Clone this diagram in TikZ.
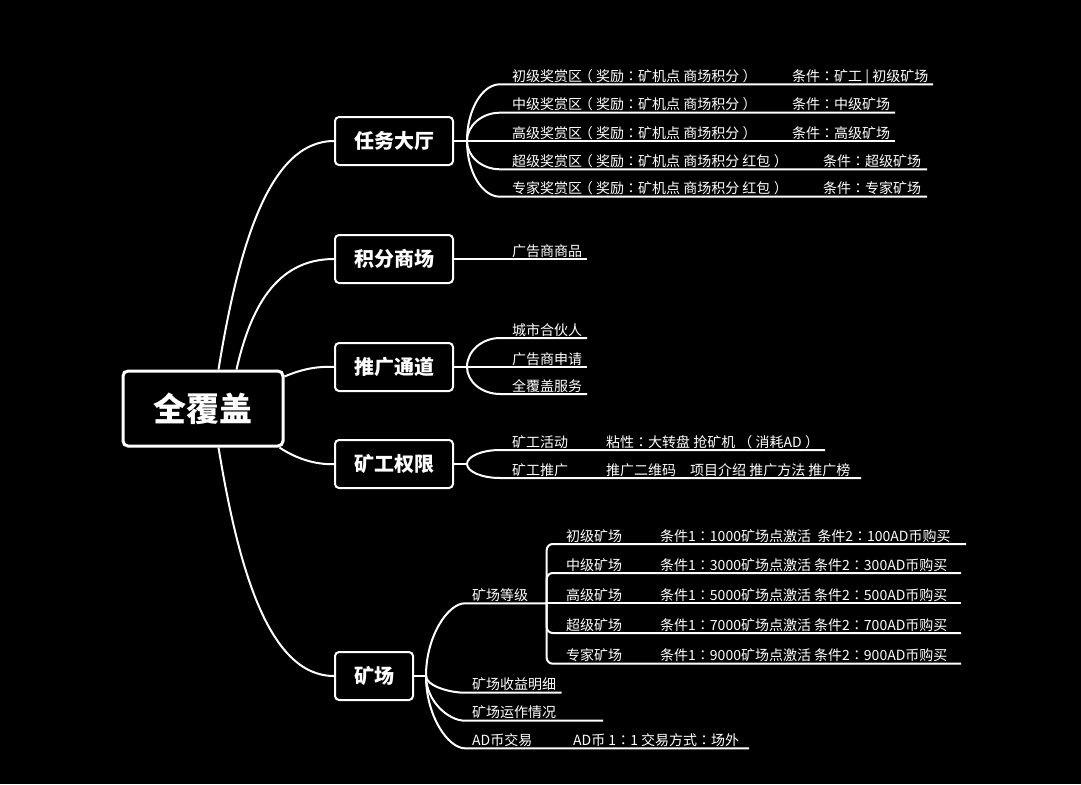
\documentclass[tikz,border=0pt]{standalone}
\usepackage{fontspec}
\setmainfont{Noto Sans CJK SC}
\newfontfamily\tcfont{Noto Sans CJK TC}
\newcommand\myco{{\tcfont ：}}
\newcommand\mylp{\makebox[1em][l]{\hspace{-0.24em}（}}
\newcommand\myrp{\makebox[1em][l]{\hspace{0.24em}）}}
\begin{document}
\begin{tikzpicture}[x=1pt,y=-1pt,
  every node/.style={text=white},
  conn/.style={draw=white,line width=2pt},
  rootbox/.style={draw=white,line width=3pt,rounded corners=5pt,fill=black,minimum width=160pt,minimum height=75pt,inner sep=0pt,font=\bfseries\fontsize{33}{33}\selectfont},
  topic/.style={draw=white,line width=2pt,rounded corners=4pt,fill=black,minimum height=48pt,inner sep=0pt,font=\bfseries\fontsize{20}{20}\selectfont},
  lbl/.style={anchor=base west,inner sep=0pt,font=\fontsize{14}{14}\selectfont}]
\fill[black] (0,0) rectangle (1081,784);
\useasboundingbox (0,0) rectangle (1081,784);

% main nodes
\node[rootbox] (root) at (203,408.5) {全覆盖};
\node[topic,minimum width=118pt] (t1) at (394,141) {任务大厅};
\node[topic,minimum width=118pt] (t2) at (394,259) {积分商场};
\node[topic,minimum width=118pt] (t3) at (394,367) {推广通道};
\node[topic,minimum width=118pt] (t4) at (394,464) {矿工权限};
\node[topic,minimum width=78pt] (t5) at (374,676) {矿场};

% root connectors
\draw[conn] ([xshift=97pt]root.north west) .. controls (238,250) and (268,141) .. (t1.west);
\draw[conn] ([xshift=115pt]root.north west) .. controls (250,310) and (275,259) .. (t2.west);
\draw[conn] ([yshift=-7pt]root.north east) .. controls (300,370) and (315,366) .. (t3.west);
\draw[conn] ([xshift=-5pt]root.south east) .. controls (295,458) and (315,465) .. (t4.west);
\draw[conn] ([xshift=97pt]root.south west) .. controls (238,566) and (268,676) .. (t5.west);

% task hall
\coordinate (h1) at (467,141);
\draw[conn] (t1.east) -- (h1);
\coordinate (a1s) at (500,84.3);  \coordinate (a1e) at (933,84.3);
\coordinate (a2s) at (500,112.7); \coordinate (a2e) at (895,112.7);
\coordinate (a3s) at (500,141);   \coordinate (a3e) at (895,141);
\coordinate (a4s) at (500,169.3); \coordinate (a4e) at (927,169.3);
\coordinate (a5s) at (500,196.7); \coordinate (a5e) at (927,196.7);
\draw[conn] (h1) .. controls (467,110) and (482,84.3) .. (a1s) -- (a1e);
\draw[conn] (h1) .. controls (467,125.4) and (482,112.7) .. (a2s) -- (a2e);
\draw[conn] (h1) -- (a3s) -- (a3e);
\draw[conn] (h1) .. controls (467,156.6) and (482,169.3) .. (a4s) -- (a4e);
\draw[conn] (h1) .. controls (467,171.6) and (482,196.7) .. (a5s) -- (a5e);
\node[lbl] (a1) at (512,81.3) {初级奖赏区\mylp 奖励\myco 矿机点 商场积分\myrp};
\node[lbl] (a1c) at (792,81.3) {条件\myco 矿工 | 初级矿场};
\node[lbl] (a2) at (512,109.7) {中级奖赏区\mylp 奖励\myco 矿机点 商场积分\myrp};
\node[lbl] (a2c) at (792,109.7) {条件\myco 中级矿场};
\node[lbl] (a3) at (512,138) {高级奖赏区\mylp 奖励\myco 矿机点 商场积分\myrp};
\node[lbl] (a3c) at (792,138) {条件\myco 高级矿场};
\node[lbl] (a4) at (512,166.3) {超级奖赏区\mylp 奖励\myco 矿机点 商场积分 红包\myrp};
\node[lbl] (a4c) at (823,166.3) {条件\myco 超级矿场};
\node[lbl] (a5) at (512,193.7) {专家奖赏区\mylp 奖励\myco 矿机点 商场积分 红包\myrp};
\node[lbl] (a5c) at (823,193.7) {条件\myco 专家矿场};

% points mall
\coordinate (b1e) at (587,259);
\draw[conn] (t2.east) -- (b1e);
\node[lbl] (b1) at (512,256) {广告商商品};

% promotion channel
\coordinate (h3) at (467,367);
\draw[conn] (t3.east) -- (h3);
\coordinate (c1s) at (500,338); \coordinate (c1e) at (587,338);
\coordinate (c2s) at (500,367); \coordinate (c2e) at (587,367);
\coordinate (c3s) at (500,394); \coordinate (c3e) at (587,394);
\draw[conn] (h3) .. controls (467,351) and (482,338) .. (c1s) -- (c1e);
\draw[conn] (h3) -- (c2s) -- (c2e);
\draw[conn] (h3) .. controls (467,381.9) and (482,394) .. (c3s) -- (c3e);
\node[lbl] (c1) at (512,335) {城市合伙人};
\node[lbl] (c2) at (512,364) {广告商申请};
\node[lbl] (c3) at (512,391) {全覆盖服务};

% miner rights
\coordinate (h4) at (467,464);
\draw[conn] (t4.east) -- (h4);
\coordinate (d1s) at (500,450); \coordinate (d1e) at (825,450);
\coordinate (d2s) at (500,478); \coordinate (d2e) at (861,478);
\draw[conn] (h4) .. controls (467,456.3) and (482,450) .. (d1s) -- (d1e);
\draw[conn] (h4) .. controls (467,471.7) and (482,478) .. (d2s) -- (d2e);
\node[lbl] (d1) at (512,447) {矿工活动};
\node[lbl] (d1b) at (606,447) {粘性\myco 大转盘 抢矿机 \ \mylp 消耗AD\myrp};
\node[lbl] (d2) at (512,475) {矿工推广};
\node[lbl] (d2b) at (606,475) {推广二维码};
\node[lbl] (d2c) at (690,475) {项目介绍 推广方法 推广榜};

% mine field
\coordinate (h5) at (426,676);
\draw[conn] (t5.east) -- (h5);
\coordinate (e1s) at (465,603.3); \coordinate (v) at (546.7,603.3);
\coordinate (e2s) at (465,692.7); \coordinate (e2e) at (561.7,692.7);
\coordinate (e3s) at (465,720.7); \coordinate (e3e) at (603,720.7);
\coordinate (e4s) at (465,748.3); \coordinate (e4e) at (749,748.3);
\draw[conn] (h5) .. controls (426,636) and (448,603.3) .. (e1s) -- (v);
\draw[conn] (h5) .. controls (426,685.2) and (448,692.7) .. (e2s) -- (e2e);
\draw[conn] (h5) .. controls (426,700.6) and (448,720.7) .. (e3s) -- (e3e);
\draw[conn] (h5) .. controls (426,715.8) and (448,748.3) .. (e4s) -- (e4e);
\node[lbl] (e1) at (472,600.3) {矿场等级};
\node[lbl] (e2) at (472,689.7) {矿场收益明细};
\node[lbl] (e3) at (472,717.7) {矿场运作情况};
\node[lbl] (e4) at (472,745.3) {AD币交易};
\node[lbl] (e4b) at (573,745.3) {AD币 1\myco 1 交易方式\myco 场外};

% mine grades
\coordinate (g1e) at (966,544);
\coordinate (g2e) at (961,573);
\coordinate (g3e) at (961,603.3);
\coordinate (g4e) at (961,633);
\coordinate (g5e) at (961,663.7);
\draw[conn,rounded corners=6pt] (v) |- (g1e);
\draw[conn,rounded corners=6pt] (v) |- (g2e);
\draw[conn] (v) -- (g3e);
\draw[conn,rounded corners=6pt] (v) |- (g4e);
\draw[conn,rounded corners=6pt] (v) |- (g5e);
\node[lbl] (g1) at (566,541) {初级矿场};
\node[lbl] (g1c) at (660,541) {条件1\myco 1000矿场点激活 \ 条件2\myco 100AD币购买};
\node[lbl] (g2) at (566,570) {中级矿场};
\node[lbl] (g2c) at (660,570) {条件1\myco 3000矿场点激活 条件2\myco 300AD币购买};
\node[lbl] (g3) at (566,600.3) {高级矿场};
\node[lbl] (g3c) at (660,600.3) {条件1\myco 5000矿场点激活 条件2\myco 500AD币购买};
\node[lbl] (g4) at (566,630) {超级矿场};
\node[lbl] (g4c) at (660,630) {条件1\myco 7000矿场点激活 条件2\myco 700AD币购买};
\node[lbl] (g5) at (566,660.7) {专家矿场};
\node[lbl] (g5c) at (660,660.7) {条件1\myco 9000矿场点激活 条件2\myco 900AD币购买};
\end{tikzpicture}
\end{document}
